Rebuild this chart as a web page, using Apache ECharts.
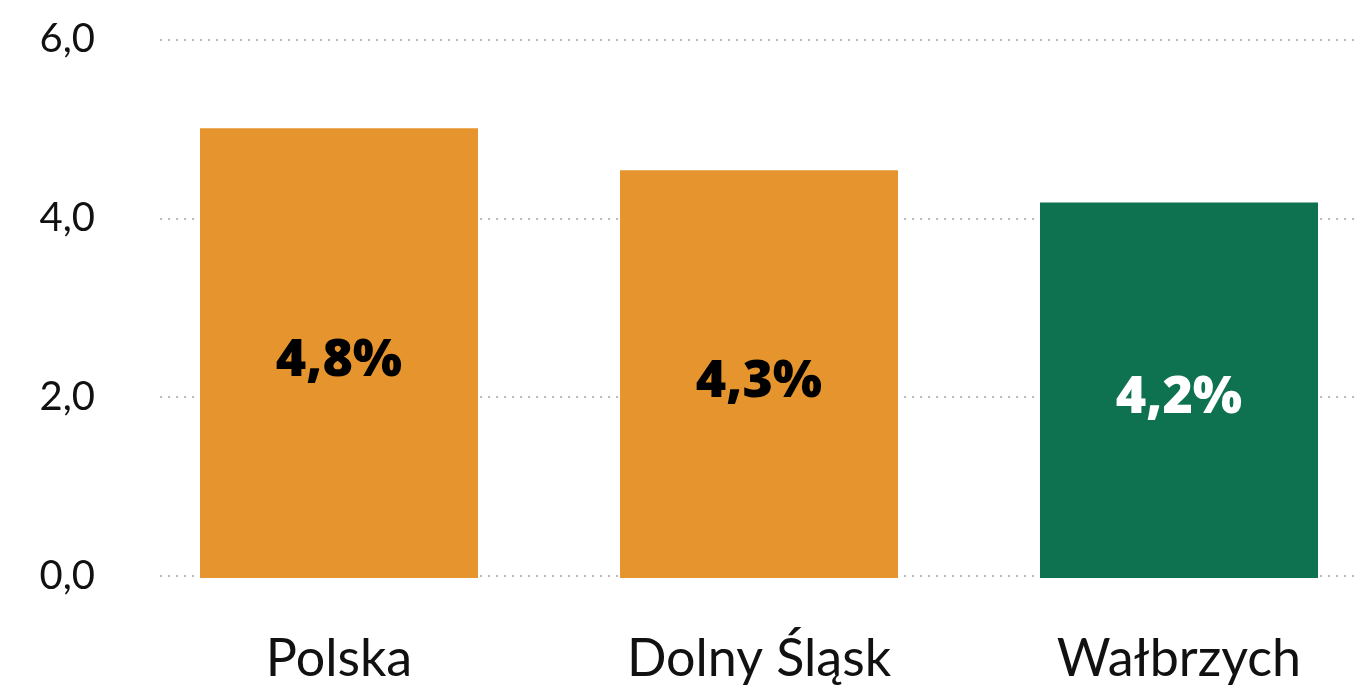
<!DOCTYPE html>
<html><head><meta charset="utf-8">
<script src="https://cdn.jsdelivr.net/npm/echarts@6/dist/echarts.min.js"></script>
<style>html,body{margin:0;padding:0;background:#fff;overflow:hidden;width:1358px;height:688px}#c{width:1389px;height:688px}</style>
</head><body><div id="c"></div>
<script>
const categories = ['Polska', 'Dolny Śląsk', 'Wałbrzych'];
const barValues = [5.03, 4.56, 4.2];
const barLabels = ['4,8%', '4,3%', '4,2%'];
const barColors = ['#E6952E', '#E6952E', '#0E7150'];
const labelColors = ['#000', '#000', '#fff'];
const yTicks = [0, 2, 4, 6];

const chart = echarts.init(document.getElementById('c'));
const font = 'Lato, "Noto Sans", sans-serif';
chart.setOption({
  animation: false,
  grid: [
    {left: 160, right: 31, top: 39.5, bottom: 112},
    {left: 129, right: 0, top: 41.5, bottom: 110}
  ],
  xAxis: [
    {gridIndex: 0, type: 'value', min: 0, max: 1, show: false},
    {gridIndex: 1, type: 'category', data: categories,
     axisLine: {show: false}, axisTick: {show: false},
     axisLabel: {fontFamily: font, fontSize: 52, color: '#111', margin: 55}}
  ],
  yAxis: [
    {gridIndex: 0, type: 'value', min: yTicks[0], max: yTicks[yTicks.length-1], interval: 2,
     axisLine: {show: false}, axisTick: {show: false},
     axisLabel: {fontFamily: font, fontSize: 40, color: '#111', margin: 65,
       formatter: v => v.toFixed(1).replace('.', ',')},
     splitLine: {show: true, lineStyle: {color: '#bbb', width: 2, type: [2, 6]}}},
    {gridIndex: 1, type: 'value', min: 0, max: 6, show: false, splitLine: {show: false}}
  ],
  series: [{
    type: 'bar', xAxisIndex: 1, yAxisIndex: 1, barWidth: 278,
    data: barValues.map((v, i) => ({
      value: v,
      itemStyle: {color: barColors[i]},
      label: {show: true, position: 'inside', offset: [0, 8], formatter: barLabels[i],
        color: labelColors[i], fontFamily: '"Open Sans", sans-serif', fontWeight: 800, fontSize: 52}
    }))
  }]
});
</script></body></html>
